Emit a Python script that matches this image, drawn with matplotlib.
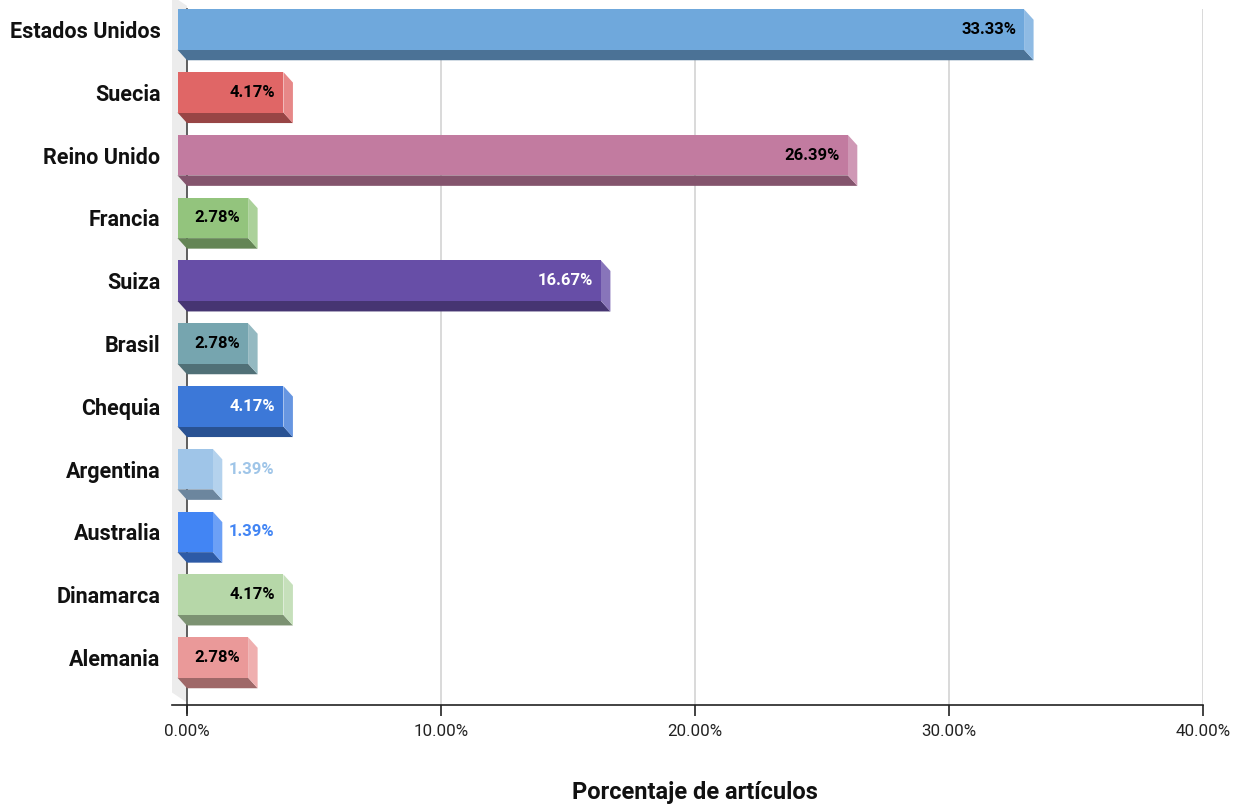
import matplotlib.pyplot as plt
import numpy as np
from matplotlib.colors import to_rgb
from matplotlib.patches import Polygon, Rectangle

plt.rcParams["font.family"] = ["Roboto", "DejaVu Sans"]

countries = [
    "Estados Unidos", "Suecia", "Reino Unido", "Francia", "Suiza", "Brasil",
    "Chequia", "Argentina", "Australia", "Dinamarca", "Alemania",
]
shares = [33.33, 4.17, 26.39, 2.78, 16.67, 2.78, 4.17, 1.39, 1.39, 4.17, 2.78]
colors = [
    "#6fa8dc", "#e06666", "#c27ba0", "#93c47d", "#674ea7", "#76a5af",
    "#3c78d8", "#9fc5e8", "#4285f4", "#b6d7a8", "#ea9999",
]
xticks = [0, 10, 20, 30, 40]

W, H, DPI = 1243, 810, 100
fig = plt.figure(figsize=(W / DPI, H / DPI), dpi=DPI)

# axes box in pixels: x 187..1203, y 9..705
left_px, right_px, top_px, bot_px = 187, 1203, 9, 705
ax = fig.add_axes([left_px / W, (H - bot_px) / H,
                   (right_px - left_px) / W, (bot_px - top_px) / H])

xmin, xmax = 0, 40
px_per_x = (right_px - left_px) / (xmax - xmin)
row_px = 62.8
first_px = 29.5
ylim_top = (top_px - first_px) / row_px
ylim_bot = (bot_px - first_px) / row_px
ax.set_xlim(xmin, xmax)
ax.set_ylim(ylim_bot, ylim_top)

# 3d depth of the bars (pixels converted to data units)
dx = 9.5 / px_per_x
dy = 10.5 / row_px
bh = 40.5 / row_px


def shade(c, f):
    r, g, b = to_rgb(c)
    return (r * f, g * f, b * f)


def tint(c, f):
    r, g, b = to_rgb(c)
    return (r + (1 - r) * f, g + (1 - g) * f, b + (1 - b) * f)


# gridlines
for t in xticks[1:]:
    ax.axvline(t, color="#d9d9d9", lw=1.4, zorder=0)

# side wall on the left
wx = 15 / px_per_x
wy = 10 / row_px
wall = Polygon([(0, ylim_top - 0.05), (0, ylim_bot - 0.04),
                (-wx, ylim_bot - 0.04 - wy), (-wx, ylim_top - 0.05 - wy)],
               closed=True, facecolor="#ececec", edgecolor="none",
               zorder=0.5, clip_on=False)
ax.add_patch(wall)
ax.plot([0, 0], [ylim_top, ylim_bot + 8 / row_px], color="#444444", lw=1.2,
        zorder=0.8, clip_on=False)

for i, (v, c) in enumerate(zip(shares, colors)):
    top = i - bh / 2
    bot = i + bh / 2
    # bottom face
    ax.add_patch(Polygon([(-dx, bot), (v - dx, bot), (v, bot + dy), (0, bot + dy)],
                         closed=True, facecolor=shade(c, 0.68), edgecolor="none",
                         zorder=2, clip_on=False))
    # right side face
    ax.add_patch(Polygon([(v - dx, top), (v, top + dy), (v, bot + dy), (v - dx, bot)],
                         closed=True, facecolor=tint(c, 0.22), edgecolor="none",
                         zorder=2, clip_on=False))
    # front face
    ax.add_patch(Rectangle((-dx, top), v, bh, facecolor=c, edgecolor="none",
                           zorder=3, clip_on=False))

    r, g, b = to_rgb(c)
    lum = 0.299 * r + 0.587 * g + 0.114 * b
    if v > 2:
        ax.text(v - dx - 8 / px_per_x, i, f"{v:.2f}%", ha="right", va="center",
                fontsize=12, fontweight="bold",
                color="white" if lum < 0.5 else "black", zorder=4)
    else:
        ax.text(v + 6 / px_per_x, i, f"{v:.2f}%", ha="left", va="center",
                fontsize=12, fontweight="bold", color=c, zorder=4)

ax.set_yticks(np.arange(len(countries)))
ax.set_yticklabels(countries, fontsize=15.5, fontweight="bold", color="#111111")
ax.tick_params(axis="y", length=0, pad=19)

ax.set_xticks(xticks)
ax.set_xticklabels([f"{t:.2f}%" for t in xticks], fontsize=12.2, color="#222222")
ax.tick_params(axis="x", direction="out", length=8, width=1.2, color="#222222", pad=6)
fig.text((left_px + right_px) / 2 / W, 1 - 793 / H, "Porcentaje de artículos",
         ha="center", va="center", fontsize=17, fontweight="bold", color="#111111")

for s in ["top", "right", "left"]:
    ax.spines[s].set_visible(False)
ax.spines["bottom"].set_color("#222222")
ax.spines["bottom"].set_linewidth(1.2)
ax.spines["bottom"].set_bounds(-wx, xmax)
ax.patch.set_alpha(0)

fig.savefig("out.png", dpi=DPI)
